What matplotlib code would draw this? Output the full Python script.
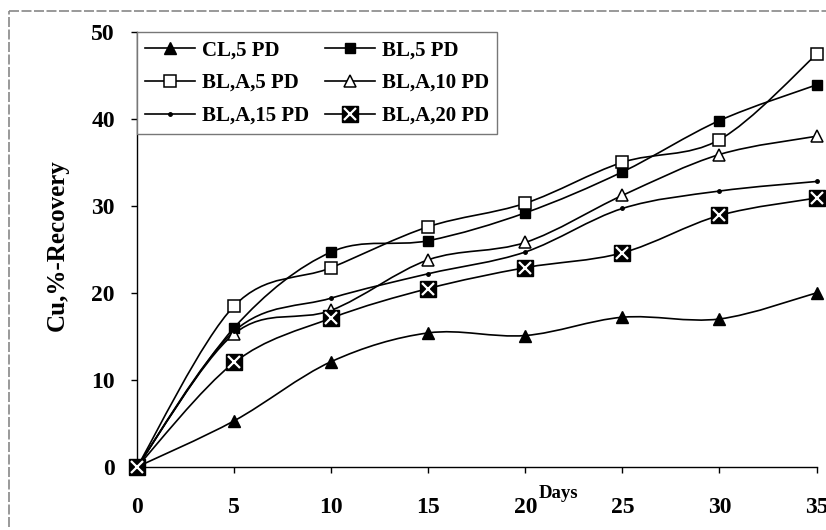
import numpy as np
import matplotlib.pyplot as plt
from matplotlib.path import Path
from matplotlib.patches import PathPatch
from matplotlib.lines import Line2D
from matplotlib.legend_handler import HandlerTuple

plt.rcParams['font.family'] = ['Liberation Serif', 'DejaVu Serif']
plt.rcParams['font.weight'] = 'bold'

days = [0, 5, 10, 15, 20, 25, 30, 35]

cl_5pd = [0, 5.3, 12.1, 15.4, 15.1, 17.2, 17.0, 20.0]
bl_5pd = [0, 16.0, 24.7, 26.0, 29.2, 33.9, 39.8, 43.9]
bla_5pd = [0, 18.5, 22.9, 27.6, 30.3, 35.0, 37.6, 47.4]
bla_10pd = [0, 15.3, 18.0, 23.8, 25.8, 31.2, 35.9, 38.0]
bla_15pd = [0, 15.6, 19.4, 22.2, 24.7, 29.7, 31.7, 32.8]
bla_20pd = [0, 12.0, 17.1, 20.5, 22.9, 24.6, 28.9, 30.9]

labels = ['CL,5 PD', 'BL,5 PD', 'BL,A,5 PD', 'BL,A,10 PD', 'BL,A,15 PD', 'BL,A,20 PD']


def smooth_path(x, y):
    # excel style smoothed line: cubic bezier through every point
    x = np.asarray(x, float)
    y = np.asarray(y, float)
    n = len(x)
    verts = [(x[0], y[0])]
    codes = [Path.MOVETO]
    for i in range(n - 1):
        x0, y0 = (x[i - 1], y[i - 1]) if i > 0 else (x[i], y[i])
        x3, y3 = (x[i + 2], y[i + 2]) if i + 2 < n else (x[i + 1], y[i + 1])
        c1 = (x[i] + (x[i + 1] - x0) / 6, y[i] + (y[i + 1] - y0) / 6)
        c2 = (x[i + 1] - (x3 - x[i]) / 6, y[i + 1] - (y3 - y[i]) / 6)
        verts += [c1, c2, (x[i + 1], y[i + 1])]
        codes += [Path.CURVE4] * 3
    return Path(verts, codes)


fig = plt.figure(figsize=(8.26, 5.3), dpi=100)
ax = fig.add_axes([0.166, 0.119, 0.8225, 0.821])

series = [cl_5pd, bl_5pd, bla_5pd, bla_10pd, bla_15pd, bla_20pd]
for vals in series:
    ax.add_patch(PathPatch(smooth_path(days, vals), fill=False, edgecolor='black',
                           linewidth=1.2, clip_on=False, zorder=2))

ms = dict(linestyle='none', clip_on=False, zorder=3)
ax.plot(days, cl_5pd, marker='^', markersize=8, color='black', **ms)
ax.plot(days, bl_5pd, marker='s', markersize=7.5, color='black', **ms)
ax.plot(days, bla_5pd, marker='s', markersize=8, markerfacecolor='white',
        markeredgecolor='black', markeredgewidth=1.1, **ms)
ax.plot(days, bla_10pd, marker='^', markersize=8.5, markerfacecolor='white',
        markeredgecolor='black', markeredgewidth=1.1, **ms)
ax.plot(days, bla_15pd, marker='o', markersize=2.5, color='black', **ms)
ax.plot(days, bla_20pd, marker='s', markersize=11, color='black', **ms)
ax.plot(days, bla_20pd, marker='x', markersize=8, markeredgewidth=1.6,
        color='white', **ms)

ax.set_xlim(0, 35)
ax.set_ylim(0, 50)
ax.set_xticks(range(0, 36, 5))
ax.set_yticks(range(0, 51, 10))
ax.spines['top'].set_visible(False)
ax.spines['right'].set_visible(False)
ax.spines['left'].set_linewidth(1.0)
ax.spines['bottom'].set_linewidth(1.0)
ax.tick_params(axis='y', direction='out', length=4, width=1, pad=12, labelsize=17)
ax.tick_params(axis='x', direction='out', length=4, width=1, pad=18, labelsize=17)

ax.set_ylabel('Cu,%-Recovery', fontsize=18, fontweight='bold')
ax.yaxis.set_label_coords(-0.1, 0.51)
ax.set_xlabel('Days', fontsize=13.5, fontweight='bold')
ax.xaxis.set_label_coords(0.62, -0.06)
ax.xaxis.label.set_verticalalignment('center')

# legend handles
h_cl = Line2D([], [], color='black', lw=1.2, marker='^', markersize=8)
h_bl = Line2D([], [], color='black', lw=1.2, marker='s', markersize=7)
h_a5 = Line2D([], [], color='black', lw=1.2, marker='s', markersize=8,
              markerfacecolor='white', markeredgewidth=1.1)
h_a10 = Line2D([], [], color='black', lw=1.2, marker='^', markersize=8.5,
               markerfacecolor='white', markeredgewidth=1.1)
h_a15 = Line2D([], [], color='black', lw=1.2, marker='o', markersize=2.5)
h_a20 = (Line2D([], [], color='black', lw=1.2, marker='s', markersize=11),
         Line2D([], [], linestyle='none', marker='x', markersize=8,
                markeredgewidth=1.6, color='white'))

leg = ax.legend([h_cl, h_a5, h_a15, h_bl, h_a10, h_a20],
                [labels[0], labels[2], labels[4], labels[1], labels[3], labels[5]],
                ncol=2, loc='upper left', bbox_to_anchor=(0, 1.0), borderaxespad=0,
                fontsize=15, handlelength=2.4, handletextpad=0.3,
                columnspacing=0.8, labelspacing=0.62, borderpad=0.4,
                fancybox=False, framealpha=1, edgecolor='#777777',
                handler_map={tuple: HandlerTuple(ndivide=1, pad=0)})
leg.get_frame().set_linewidth(1.0)
for t in leg.get_texts():
    t.set_fontweight('bold')

# outer frame of the pasted figure
fig.add_artist(plt.Line2D([9 / 826, 9 / 826], [1 - 527 / 530, 1 - 11 / 530],
                          transform=fig.transFigure, color='#888888', lw=1.2,
                          linestyle=(0, (6, 1.5))))
fig.add_artist(plt.Line2D([9 / 826, 1.0], [1 - 11 / 530, 1 - 11 / 530],
                          transform=fig.transFigure, color='#888888', lw=1.2,
                          linestyle=(0, (6, 1.5))))

fig.savefig('out.png', dpi=100)
